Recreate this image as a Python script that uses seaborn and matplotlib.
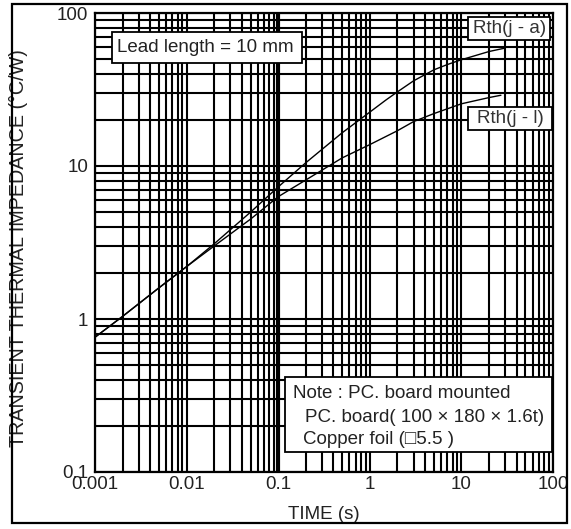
import numpy as np
import pandas as pd
import matplotlib
matplotlib.use("Agg")
import matplotlib.pyplot as plt
from matplotlib.patches import Rectangle
from matplotlib.ticker import FixedLocator, NullFormatter, FixedFormatter
import seaborn as sns

# ---- data ----
t_ja = [0.001, 0.002, 0.005, 0.01, 0.02, 0.05, 0.1, 0.2, 0.5, 1, 1.5, 2, 3, 5, 7, 10, 20, 30]
z_ja = [0.76, 1.04, 1.6, 2.2, 3.1, 5.0, 7.3, 10.5, 16.5, 22.5, 27, 30.5, 36, 42.5, 46, 49.5, 56, 59]
t_jl = [0.001, 0.002, 0.005, 0.01, 0.02, 0.05, 0.1, 0.2, 0.5, 1, 2, 3, 5, 10, 20, 27]
z_jl = [0.76, 1.04, 1.6, 2.2, 3.0, 4.5, 6.3, 8.1, 11.3, 13.8, 17, 19.5, 22, 25.5, 28, 29]
series_names = ["Rth(j - a)", "Rth(j - l)"]

x_ticks = [0.001, 0.01, 0.1, 1, 10, 100]
x_labels = ["0.001", "0.01", "0.1", "1", "10", "100"]
y_ticks = [0.1, 1, 10, 100]
y_labels = ["0.1", "1", "10", "100"]

x_label = "TIME (s)"
y_label = "TRANSIENT THERMAL IMPEDANCE (°C/W)"
lead_text = "Lead length = 10 mm"
note_lines = ["Note : PC. board mounted",
              "PC. board( 100 × 180 × 1.6t)",
              "Copper foil (□5.5 )"]

df = pd.concat([
    pd.DataFrame({"t": t_ja, "z": z_ja, "series": series_names[0]}),
    pd.DataFrame({"t": t_jl, "z": z_jl, "series": series_names[1]}),
])

sns.set_theme(style="white")
plt.rcParams["font.family"] = ["Liberation Sans", "DejaVu Sans"]

FS = 13.5
fig = plt.figure(figsize=(5.71, 5.29), dpi=100)
ax = fig.add_axes([95 / 571, 1 - 472 / 529, 458 / 571, 459 / 529])

ax.set_xscale("log")
ax.set_yscale("log")
ax.set_xlim(0.001, 100)
ax.set_ylim(0.1, 100)

# grid (major + minor), all black
minor_x = [m * 10.0 ** e for e in range(-3, 2) for m in range(2, 10)]
minor_y = [m * 10.0 ** e for e in range(-1, 2) for m in range(2, 10)]
ax.xaxis.set_major_locator(FixedLocator(x_ticks))
ax.xaxis.set_major_formatter(FixedFormatter(x_labels))
ax.yaxis.set_major_locator(FixedLocator(y_ticks))
ax.yaxis.set_major_formatter(FixedFormatter(y_labels))
ax.xaxis.set_minor_locator(FixedLocator(minor_x))
ax.yaxis.set_minor_locator(FixedLocator(minor_y))
ax.xaxis.set_minor_formatter(NullFormatter())
ax.yaxis.set_minor_formatter(NullFormatter())
ax.grid(True, which="both", color="black", linewidth=1.5, zorder=1)
ax.set_axisbelow(True)
ax.axvline(0.1, color="black", linewidth=3.0, zorder=1.5)

ax.tick_params(which="both", length=0)
ax.tick_params(axis="x", pad=3, labelsize=FS, colors="#222222")
ax.tick_params(axis="y", pad=5, labelsize=FS, colors="#222222")

for s in ax.spines.values():
    s.set_color("black")
    s.set_linewidth(1.6)

sns.lineplot(data=df, x="t", y="z", hue="series", palette=["black", "black"],
             legend=False, linewidth=1.0, ax=ax, zorder=3, sort=True)

ax.set_xlabel(x_label, fontsize=FS, color="#222222", labelpad=9.5)
ax.set_ylabel(y_label, fontsize=14.2, color="#222222", labelpad=0)
ax.yaxis.set_label_coords(-0.146, 0.488)


def fx(px):
    return (px - 95) / 458


def fy(py):
    return (472 - py) / 459


def box(x0, y0, x1, y1):
    ax.add_patch(Rectangle((fx(x0), fy(y1)), fx(x1) - fx(x0), fy(y0) - fy(y1),
                           transform=ax.transAxes, facecolor="white",
                           edgecolor="black", linewidth=1.3, zorder=5,
                           clip_on=False))


box(112, 32, 302, 63)
ax.text(fx(117), fy(47.5), lead_text, transform=ax.transAxes, fontsize=FS,
        ha="left", va="center", zorder=6, color="#222222")

box(468, 17, 550, 40)
ax.text(fx(510), fy(28.5), series_names[0], transform=ax.transAxes, fontsize=FS,
        ha="center", va="center", zorder=6, color="#333333")

box(468, 107, 552, 130)
ax.text(fx(510), fy(118.5), series_names[1], transform=ax.transAxes, fontsize=FS,
        ha="center", va="center", zorder=6, color="#333333")

box(285, 377, 552, 452)
ax.text(fx(293), fy(393), note_lines[0], transform=ax.transAxes, fontsize=FS,
        ha="left", va="center", zorder=6, color="#222222")
ax.text(fx(305), fy(418), note_lines[1], transform=ax.transAxes, fontsize=FS,
        ha="left", va="center", zorder=6, color="#222222")
ax.text(fx(303), fy(440), note_lines[2], transform=ax.transAxes, fontsize=FS,
        ha="left", va="center", zorder=6, color="#222222")

# outer frame
fig.patches.append(Rectangle((12 / 571, 1 - 523 / 529), 555 / 571, 519 / 529,
                             transform=fig.transFigure, fill=False,
                             edgecolor="black", linewidth=1.6))

fig.savefig("out.png", dpi=100)
